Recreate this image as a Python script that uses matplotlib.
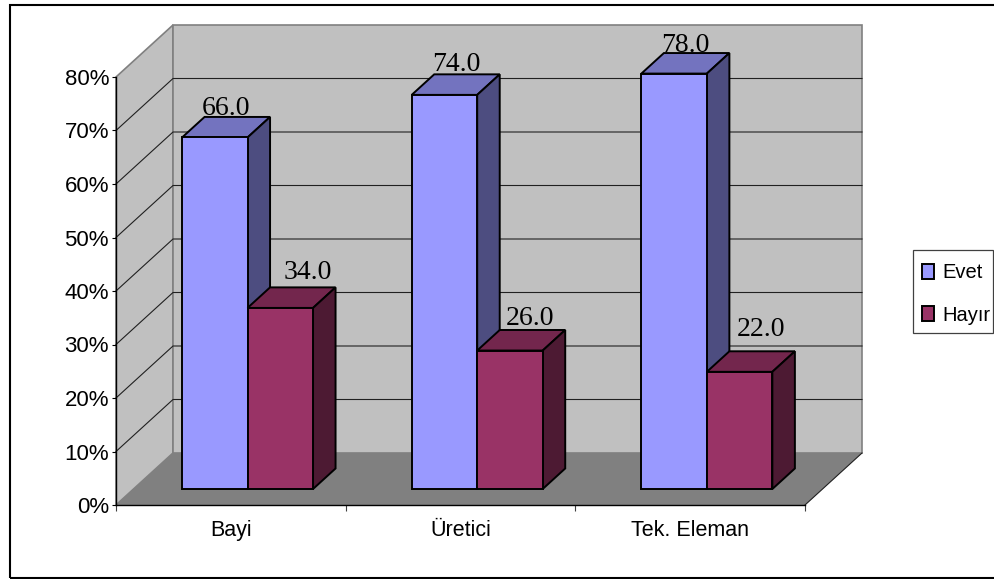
import matplotlib
matplotlib.use('Agg')
import matplotlib.pyplot as plt
from matplotlib.patches import Polygon, Rectangle

# Values
categories = ['Bayi', 'Üretici', 'Tek. Eleman']
evet = [66.0, 74.0, 78.0]
hayir = [34.0, 26.0, 22.0]
y_ticks = [0, 10, 20, 30, 40, 50, 60, 70, 80]

# Labels do not sit evenly on the bars in the original, nudges in pixels
evet_nudge = [(0, 2), (1, 3), (0, 1.5)]
hayir_nudge = [(16, 8), (8.5, 5), (10, 15)]

W, H = 995, 579
fig = plt.figure(figsize=(W / 100, H / 100), dpi=100)
ax = fig.add_axes([116 / W, (H - 505) / H, (805 - 116) / W, (505 - 77) / H])
ax.set_xlim(0, 3)
ax.set_ylim(0, 80)

# pixel sizes of one unit, used for the oblique depth offset
px_x = (805 - 116) / 3
px_y = (505 - 77) / 80
depth_x = 57 / px_x
depth_y = 52 / px_y


def proj(x, y, d):
    # d = 0 is the front plane, d = 1 the back wall
    return (x + d * depth_x, y + d * depth_y)


def face(points, color, edge='none', lw=0, z=1):
    ax.add_patch(Polygon([proj(*p) for p in points], closed=True, facecolor=color,
                         edgecolor=edge, linewidth=lw, clip_on=False, zorder=z,
                         joinstyle='miter'))


# Walls and floor
face([(0, 0, 0), (0, 80, 0), (0, 80, 1), (0, 0, 1)], '#C0C0C0', '#808080', 1.2)
face([(0, 0, 1), (0, 80, 1), (3, 80, 1), (3, 0, 1)], '#C0C0C0', '#808080', 1.2)
face([(0, 0, 0), (3, 0, 0), (3, 0, 1), (0, 0, 1)], '#808080', 'none', 0, z=1.5)

# Gridlines run along the side wall and the back wall
for t in y_ticks[1:-1]:
    xs, ys = zip(proj(0, t, 0), proj(0, t, 1), proj(3, t, 1))
    ax.plot(xs, ys, color='#202020', lw=0.8, clip_on=False, zorder=1.2)
xs, ys = zip(proj(3, 0, 0), proj(3, 0, 1))
ax.plot(xs, ys, color='#202020', lw=0.8, clip_on=False, zorder=1.6)

# Bars
base_d = 16 / 52
bar_d = 0.395
bar_w = 65.5 / px_x
start = 48.5 / px_x
scale = 0.9955  # bars sit a little nearer than the walls
base = base_d * depth_y
off = base_d * depth_x

evet_c = ['#9999FF', '#7373BF', '#4D4D80']
hayir_c = ['#993366', '#73264D', '#4D1A33']
series = [(evet, evet_c, 'Evet', evet_nudge), (hayir, hayir_c, 'Hayır', hayir_nudge)]

z = 3
for i in range(len(categories)):
    for j, (vals, cols, name, nudge) in enumerate(series):
        h = vals[i] * scale
        x0 = i + start + j * bar_w + off
        x1 = x0 + bar_w
        top = [(x0, h + base, 0), (x1, h + base, 0), (x1, h + base, bar_d), (x0, h + base, bar_d)]
        side = [(x1, base, 0), (x1, h + base, 0), (x1, h + base, bar_d), (x1, base, bar_d)]
        face(top, cols[1], '#000000', 1.4, z)
        face(side, cols[2], '#000000', 1.4, z)
        ax.bar(x0, h, bar_w, bottom=base, align='edge', color=cols[0],
               edgecolor='#000000', linewidth=1.4, clip_on=False, zorder=z + 0.5,
               label=name if i == 0 else None)
        # label goes over the middle of the top face, on its back edge
        lx = x0 + bar_w / 2 + bar_d * depth_x / 2
        ly = h + base + bar_d * depth_y
        ax.annotate(f'{vals[i]:.1f}', (lx, ly), xytext=nudge[i], textcoords='offset pixels',
                    family='Liberation Serif', fontsize=20, ha='center', va='baseline',
                    color='#000000', zorder=20, annotation_clip=False)
        z += 1

# Axes
for s in ['top', 'right']:
    ax.spines[s].set_visible(False)
for s in ['left', 'bottom']:
    ax.spines[s].set_linewidth(1.0)
    ax.spines[s].set_zorder(2)

ax.set_yticks(y_ticks)
ax.set_yticklabels([f'{t}%' for t in y_ticks], family='Liberation Sans', fontsize=16)
ax.set_xticks([0, 1, 2, 3])
ax.set_xticklabels([])
ax.set_xticks([0.5, 1.5, 2.5], minor=True)
ax.set_xticklabels(categories, minor=True, family='Liberation Sans', fontsize=15.5)
ax.tick_params(axis='y', length=3, width=0.8, pad=2)
ax.tick_params(axis='x', which='major', length=4, width=0.8, color='#404040')
ax.tick_params(axis='x', which='minor', length=0, pad=11)

# Legend, box drawn by hand since its padding is not even
fig.add_artist(Rectangle((913.5 / W, (H - 333) / H), 80 / W, 83 / H, transform=fig.transFigure,
                         facecolor='white', edgecolor='#404040', linewidth=0.9, zorder=-1))
leg = ax.legend(loc='upper left', bbox_to_anchor=(922 / W, (H - 263.5) / H),
                bbox_transform=fig.transFigure, frameon=False, borderaxespad=0, borderpad=0,
                handlelength=0.6, handleheight=0.75, handletextpad=0.4, labelspacing=1.15,
                prop={'family': 'Liberation Sans', 'size': 14.5})
leg.set_zorder(30)

# Chart area border, the right side falls off the picture
fig.add_artist(Rectangle((9.5 / W, (H - 578) / H), 1.0, (578 - 4.5) / H, transform=fig.transFigure,
                         facecolor='none', edgecolor='#000000', linewidth=1.5, zorder=-1))

fig.savefig('out.png', dpi=100)
